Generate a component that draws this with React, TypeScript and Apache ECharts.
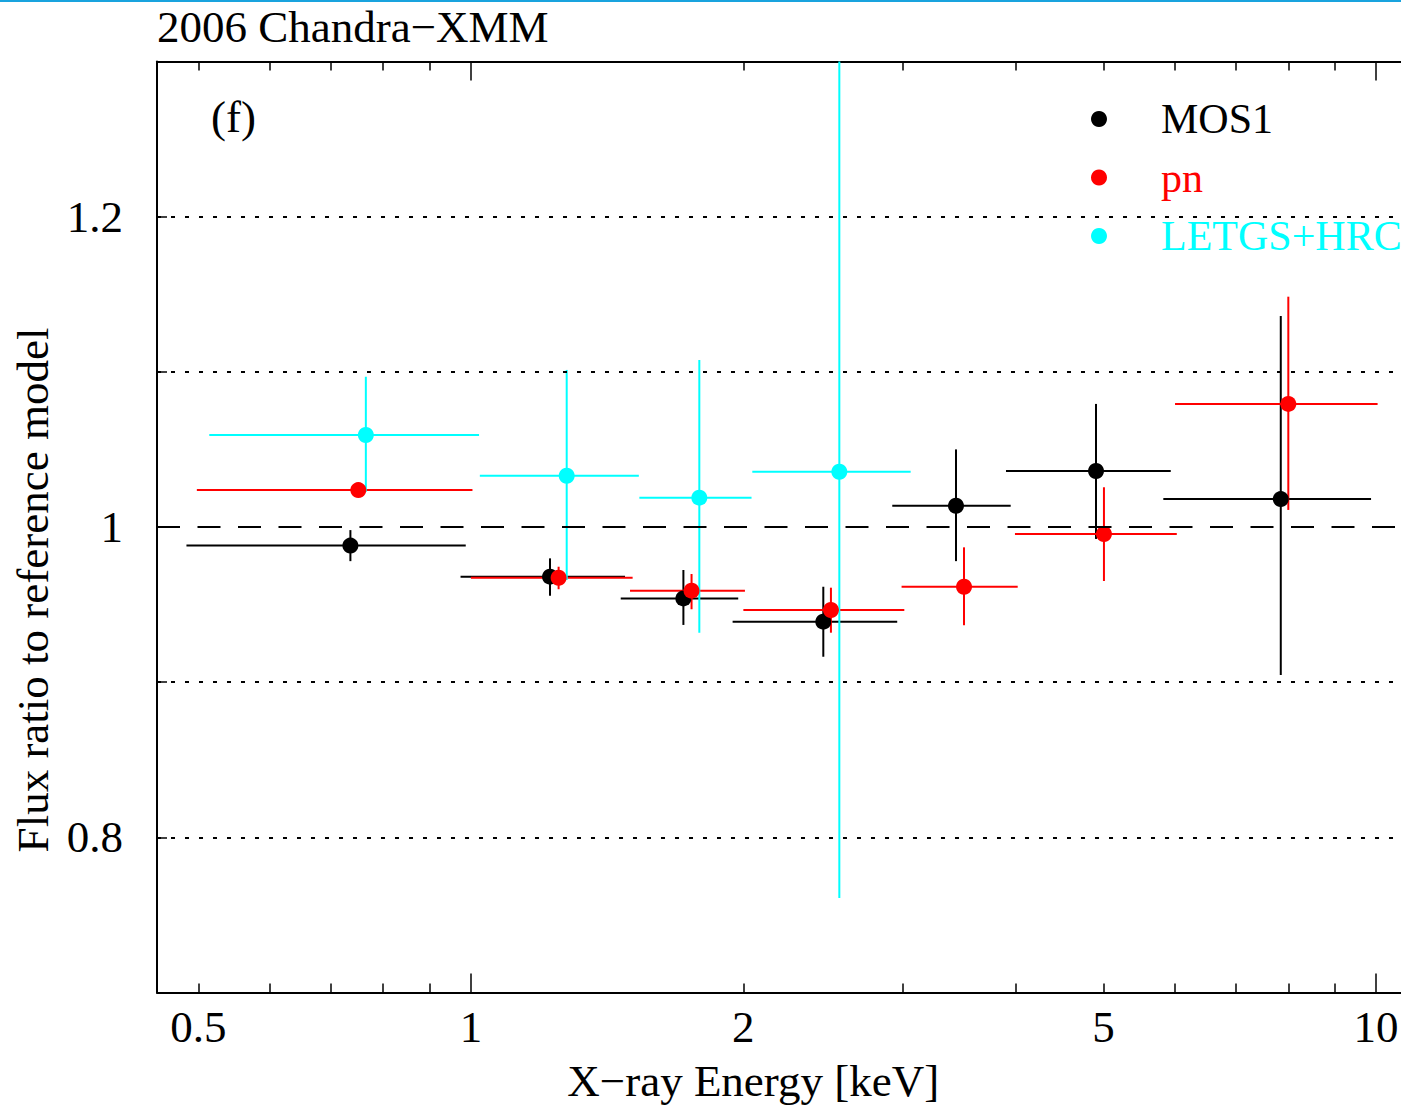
import React, { useEffect, useRef } from 'react';
import * as echarts from 'echarts';

// ---- axis ticks / labels ----
const xMin = 0.45;
const xMax = 11;
const xTickMajor = [1, 10];
const xTickMinor = [0.5, 0.6, 0.7, 0.8, 0.9, 2, 3, 4, 5, 6, 7, 8, 9];
const xTickLabels = [0.5, 1, 2, 5, 10];
const yMin = 0.7;
const yMax = 1.3;
const yTicks = [0.8, 0.9, 1.0, 1.1, 1.2];
const yTickLabels = [0.8, 1.0, 1.2];
const dottedLevels = [0.8, 0.9, 1.1, 1.2];
const dashedLevel = 1.0;

// ---- series ----
const seriesNames = ['MOS1', 'pn', 'LETGS+HRC'];
const seriesColors = ['#000000', '#ff0000', '#00ffff'];

// MOS1 (black)
const mos1Energy = [0.736, 1.223, 1.717, 2.451, 3.435, 4.905, 7.848];
const mos1EnergyLo = [0.485, 0.974, 1.464, 1.946, 2.921, 3.901, 5.821];
const mos1EnergyHi = [0.987, 1.48, 1.974, 2.958, 3.948, 5.932, 9.874];
const mos1Ratio = [0.988, 0.968, 0.954, 0.939, 1.0137, 1.0361, 1.018];
const mos1RatioLo = [0.978, 0.9557, 0.9369, 0.9164, 0.978, 0.9923, 0.9046];
const mos1RatioHi = [0.998, 0.9798, 0.9723, 0.9615, 1.05, 1.0793, 1.136];

// pn (red)
const pnEnergy = [0.751, 1.25, 1.753, 2.499, 3.506, 5.005, 8.0];
const pnEnergyLo = [0.498, 1.0, 1.499, 2.0, 2.991, 3.991, 5.997];
const pnEnergyHi = [1.004, 1.509, 2.008, 3.012, 4.019, 6.024, 10.04];
const pnRatio = [1.0238, 0.9673, 0.959, 0.9465, 0.9615, 0.9955, 1.0793];
const pnRatioLo = [1.021, 0.9599, 0.947, 0.9319, 0.9367, 0.9652, 1.011];
const pnRatioHi = [1.027, 0.9744, 0.9697, 0.9609, 0.9869, 1.0256, 1.1484];

// LETGS+HRC (cyan)
const letgsEnergy = [0.7655, 1.276, 1.788, 2.553];
const letgsEnergyLo = [0.514, 1.023, 1.535, 2.046];
const letgsEnergyHi = [1.021, 1.533, 2.042, 3.061];
const letgsRatio = [1.0593, 1.033, 1.0189, 1.0356];
const letgsRatioLo = [1.0227, 0.9659, 0.9319, 0.761];
const letgsRatioHi = [1.0968, 1.1012, 1.1076, 1.31];

const FONT = '"Liberation Serif", "DejaVu Serif", serif';
const FS = 45;
const LEGEND_FS = 42;

function rows(e: number[], r: number[], elo: number[], ehi: number[], rlo: number[], rhi: number[]) {
  return e.map((v, i) => [v, r[i], elo[i], ehi[i], rlo[i], rhi[i]]);
}

function makeRender(color: string) {
  return (params: any, api: any) => {
    const e = api.value(0);
    const r = api.value(1);
    const elo = api.value(2);
    const ehi = api.value(3);
    const rlo = api.value(4);
    const rhi = api.value(5);
    const a = api.coord([elo, r]);
    const b = api.coord([ehi, r]);
    const c = api.coord([e, rlo]);
    const d = api.coord([e, rhi]);
    return {
      type: 'group',
      children: [
        { type: 'line', shape: { x1: a[0], y1: a[1], x2: b[0], y2: b[1] }, style: { stroke: color, lineWidth: 2 } },
        { type: 'line', shape: { x1: c[0], y1: c[1], x2: d[0], y2: d[1] }, style: { stroke: color, lineWidth: 2 } },
      ],
    };
  };
}

const fmt = (v: number) => String(Math.round(v * 10) / 10);

export default function App() {
  const ref = useRef<HTMLDivElement>(null);
  useEffect(() => {
    if (!ref.current) return;
    const chart = echarts.init(ref.current, undefined, { renderer: 'svg' });
    const sets = [
      rows(mos1Energy, mos1Ratio, mos1EnergyLo, mos1EnergyHi, mos1RatioLo, mos1RatioHi),
      rows(pnEnergy, pnRatio, pnEnergyLo, pnEnergyHi, pnRatioLo, pnRatioHi),
      rows(letgsEnergy, letgsRatio, letgsEnergyLo, letgsEnergyHi, letgsRatioLo, letgsRatioHi),
    ];
    const series: any[] = [];
    sets.forEach((data, i) => {
      const s: any = {
        type: 'custom',
        name: seriesNames[i] + ' errors',
        data,
        encode: { x: 0, y: 1 },
        clip: true,
        renderItem: makeRender(seriesColors[i]),
        silent: true,
      };
      if (i === 0) {
        s.markLine = {
          silent: true,
          symbol: ['none', 'none'],
          label: { show: false },
          emphasis: { disabled: true },
          data: [
            ...dottedLevels.map((v) => ({ yAxis: v, lineStyle: { type: [4, 10], width: 2, color: '#000' } })),
            { yAxis: dashedLevel, lineStyle: { type: [23, 17.5], width: 2, color: '#000' } },
          ],
        };
      }
      series.push(s);
      series.push({
        type: 'scatter',
        name: seriesNames[i],
        data: data.map((d) => [d[0], d[1]]),
        symbol: 'circle',
        symbolSize: 16,
        itemStyle: { color: seriesColors[i], opacity: 1 },
        clip: true,
        silent: true,
      });
    });

    const baseX = {
      type: 'log',
      logBase: 10,
      min: xMin,
      max: xMax,
      splitLine: { show: false },
      axisPointer: { show: false },
    };

    chart.setOption({
      animation: false,
      backgroundColor: '#ffffff',
      title: {
        text: '2006 Chandra\u2212XMM',
        left: 157,
        top: 4,
        padding: 0,
        textStyle: { fontFamily: FONT, fontSize: FS, fontWeight: 'normal', color: '#000' },
      },
      legend: {
        data: seriesNames.map((n, i) => ({ name: n, textStyle: { color: seriesColors[i] } })),
        orient: 'vertical',
        left: 1091,
        top: 98,
        padding: 0,
        itemWidth: 114,
        itemHeight: 16,
        itemGap: 16.5,
        icon: 'circle',
        selectedMode: false,
        textStyle: { fontFamily: FONT, fontSize: LEGEND_FS, lineHeight: 42 },
      },
      grid: {
        left: 157,
        top: 61.4,
        width: 1256.5,
        height: 931.2,
        outerBoundsMode: 'none',
        containLabel: false,
      },
      xAxis: [
        {
          ...baseX,
          position: 'bottom',
          name: 'X\u2212ray Energy [keV]',
          nameLocation: 'middle',
          nameGap: 66,
          nameTextStyle: { fontFamily: FONT, fontSize: FS, color: '#000', padding: [0, 64, 0, 0] },
          axisLine: { show: true, lineStyle: { color: '#000', width: 2 } },
          axisTick: { show: true, inside: true, length: 19, customValues: xTickMajor, lineStyle: { color: '#000', width: 1.5 } },
          axisLabel: {
            show: true,
            customValues: xTickLabels,
            formatter: (v: number) => fmt(v),
            margin: 12,
            fontFamily: FONT,
            fontSize: FS,
            color: '#000',
          },
        },
        {
          ...baseX,
          position: 'bottom',
          axisLine: { show: false },
          axisTick: { show: true, inside: true, length: 9, customValues: xTickMinor, lineStyle: { color: '#000', width: 1.5 } },
          axisLabel: { show: false },
        },
        {
          ...baseX,
          position: 'top',
          axisLine: { show: true, lineStyle: { color: '#000', width: 2 } },
          axisTick: { show: true, inside: true, length: 19, customValues: xTickMajor, lineStyle: { color: '#000', width: 1.5 } },
          axisLabel: { show: false },
        },
        {
          ...baseX,
          position: 'top',
          axisLine: { show: false },
          axisTick: { show: true, inside: true, length: 9, customValues: xTickMinor, lineStyle: { color: '#000', width: 1.5 } },
          axisLabel: { show: false },
        },
      ],
      yAxis: [
        {
          type: 'value',
          position: 'left',
          min: yMin,
          max: yMax,
          interval: 0.1,
          name: 'Flux ratio to reference model',
          nameLocation: 'middle',
          nameRotate: 90,
          nameGap: 99,
          nameTextStyle: { fontFamily: FONT, fontSize: FS, color: '#000', padding: [0, 126, 0, 0] },
          splitLine: { show: false },
          axisLine: { show: true, lineStyle: { color: '#000', width: 2 } },
          axisTick: { show: true, inside: true, length: 10, customValues: yTicks, lineStyle: { color: '#000', width: 1.5 } },
          axisLabel: {
            show: true,
            customValues: yTickLabels,
            formatter: (v: number) => fmt(v),
            margin: 34,
            fontFamily: FONT,
            fontSize: FS,
            color: '#000',
          },
        },
      ],
      graphic: [
        {
          type: 'rect',
          left: 0,
          top: 0,
          shape: { x: 0, y: 0, width: 1460, height: 2 },
          style: { fill: '#19a3de' },
          silent: true,
        },
        {
          type: 'text',
          x: 211,
          y: 117,
          style: {
            text: '(f)',
            fontFamily: FONT,
            fontSize: FS,
            fill: '#000',
            align: 'left',
            verticalAlign: 'middle',
          },
          silent: true,
        },
      ],
      series,
    });
    return () => {
      chart.dispose();
    };
  }, []);

  return (
    <div
      style={{
        position: 'fixed',
        left: 0,
        top: 0,
        width: 1401,
        height: 1105,
        overflow: 'hidden',
        background: '#fff',
      }}
    >
      <div ref={ref} style={{ width: 1460, height: 1105 }} />
    </div>
  );
}
